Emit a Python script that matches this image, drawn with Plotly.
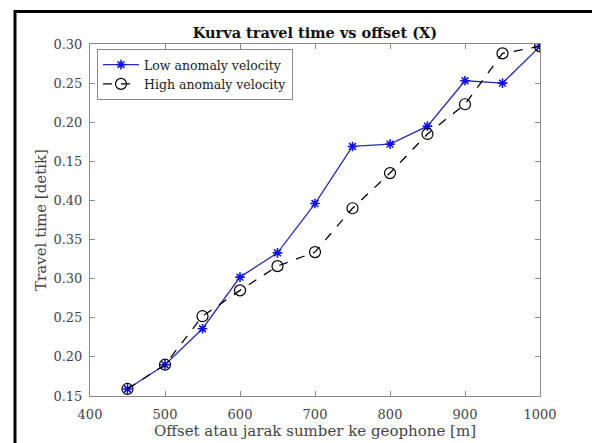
import plotly.graph_objects as go

offset = [450, 500, 550, 600, 650, 700, 750, 800, 850, 900, 950, 1000]
low_anomaly = [0.159, 0.190, 0.236, 0.302, 0.333, 0.396, 0.469, 0.472, 0.495, 0.553, 0.550, 0.597]
high_anomaly = [0.159, 0.190, 0.252, 0.285, 0.316, 0.334, 0.390, 0.435, 0.485, 0.523, 0.588, 0.597]

y_tickvals = [0.15, 0.20, 0.25, 0.30, 0.35, 0.40, 0.45, 0.50, 0.55, 0.60]
y_ticktext = ["0.15", "0.20", "0.25", "0.30", "0.35", "0.40", "0.15", "0.20", "0.25", "0.30"]
x_tickvals = [400, 500, 600, 700, 800, 900, 1000]

FONT = "DejaVu Serif"

fig = go.Figure()
fig.add_trace(go.Scatter(
    x=offset, y=low_anomaly, mode="lines+markers", name="Low anomaly velocity",
    line=dict(color="#2b2bb0", width=1.3),
    marker=dict(symbol="asterisk-open", size=8, color="#1010e0", line=dict(width=1.6, color="#1010e0")),
))
fig.add_trace(go.Scatter(
    x=offset, y=high_anomaly, mode="lines+markers", name="High anomaly velocity",
    line=dict(color="black", width=1.3, dash="dash"),
    marker=dict(symbol="circle-open", size=11, color="black", line=dict(width=1.2, color="black")),
))

axis_common = dict(
    showgrid=False, zeroline=False, showline=True, mirror="ticks",
    linecolor="#8a8a8a", linewidth=1, ticks="inside", ticklen=5, tickcolor="#8a8a8a",
    tickfont=dict(family=FONT, size=13, color="#444444"),
)

T, B, L, R = 44, 47, 90, 52
PH = 443 - T - B
PW = 592 - L - R

fig.update_layout(
    width=592, height=443,
    margin=dict(l=L, r=R, t=T, b=B),
    paper_bgcolor="white", plot_bgcolor="white",
    title=dict(text="<b>Kurva travel time vs offset (X)</b>", x=0.5, xref="paper",
               xanchor="center", y=1 - 33 / 443, yanchor="middle",
               font=dict(family=FONT, size=14.5, color="#111111")),
    xaxis=dict(range=[400, 1000], tickvals=x_tickvals, ticklabelstandoff=6,
               title=dict(text="Offset atau jarak sumber ke geophone [m]", standoff=0,
                          font=dict(family=FONT, size=15, color="#444444")),
               **axis_common),
    yaxis=dict(range=[0.15, 0.60], tickvals=y_tickvals, ticktext=y_ticktext, ticklabelstandoff=4,
               title=dict(text="Travel time [detik]", standoff=3,
                          font=dict(family=FONT, size=15, color="#444444")),
               **axis_common),
    legend=dict(x=(97 - L) / PW, y=1 - (49 - T) / PH, xanchor="left", yanchor="top",
                bgcolor="white", bordercolor="#8a8a8a", borderwidth=1,
                font=dict(family=FONT, size=12.5, color="#222222"),
                tracegroupgap=0, itemwidth=36),
    showlegend=True,
    shapes=[dict(type="rect", xref="paper", yref="paper",
                 x0=(15 - L) / PW, x1=(620 - L) / PW,
                 y0=-0.3, y1=1 + (T - 11.5) / PH,
                 line=dict(color="black", width=3), fillcolor="rgba(0,0,0,0)", layer="below")],
)

fig.write_html("out.html")
